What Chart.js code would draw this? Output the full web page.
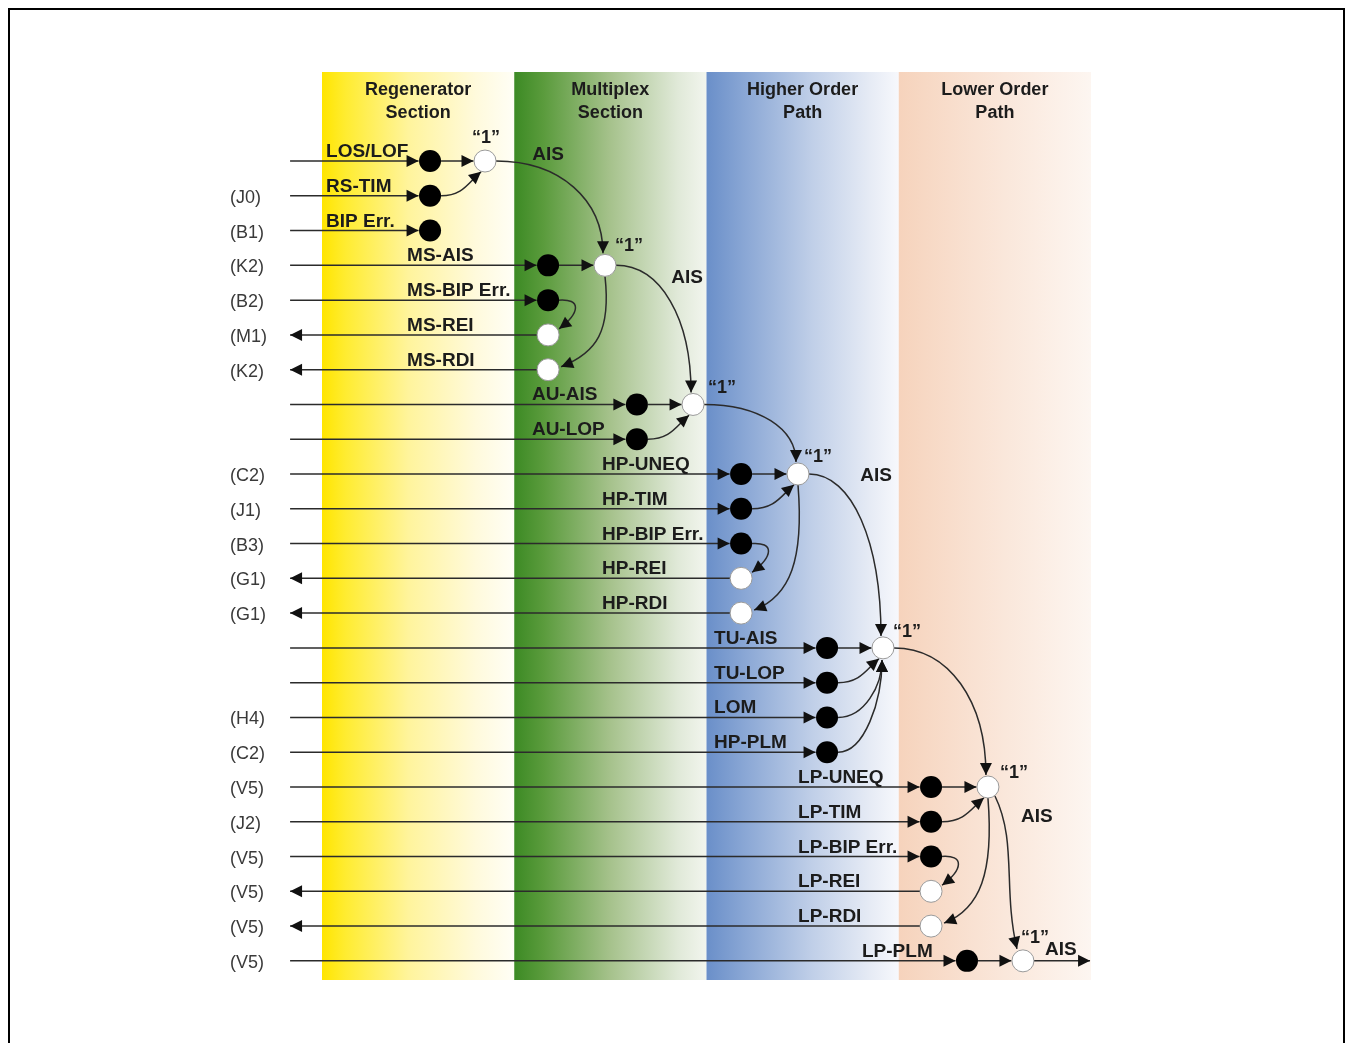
<!DOCTYPE html>
<html>
<head>
<meta charset="utf-8">
<script src="https://cdn.jsdelivr.net/npm/chart.js@4.4.1/dist/chart.umd.min.js"></script>
<style>
  html, body { margin: 0; padding: 0; background: #fff; }
  #wrap { width: 1348px; height: 1043px; position: relative; }
</style>
</head>
<body>
<div id="wrap"><canvas id="alarmas"></canvas></div>
<script>
// Datos del diagrama (x en unidades de sección, y = número de fila)

const secciones = [["Regenerator", "Section"], ["Multiplex", "Section"], ["Higher Order", "Path"], ["Lower Order", "Path"]];

const bytes = ["", "(J0)", "(B1)", "(K2)", "(B2)", "(M1)", "(K2)", "", "", "(C2)", "(J1)", "(B3)", "(G1)", "(G1)",
  "", "", "(H4)", "(C2)", "(V5)", "(J2)", "(V5)", "(V5)", "(V5)", "(V5)"];

const alarmas = ["LOS/LOF", "RS-TIM", "BIP Err.", "MS-AIS", "MS-BIP Err.", "MS-REI", "MS-RDI", "AU-AIS", "AU-LOP",
  "HP-UNEQ", "HP-TIM", "HP-BIP Err.", "HP-REI", "HP-RDI", "TU-AIS", "TU-LOP", "LOM", "HP-PLM",
  "LP-UNEQ", "LP-TIM", "LP-BIP Err.", "LP-REI", "LP-RDI", "LP-PLM"];

// 1 = señal que sale hacia la izquierda (REI / RDI)
const salida = [0, 0, 0, 0, 0, 1, 1, 0, 0, 0, 0, 0, 1, 1, 0, 0, 0, 0, 0, 0, 0, 1, 1, 0];

// posición del detector de cada fila
const detectorX = [0.562, 0.562, 0.562, 1.176, 1.176, 1.176, 1.176, 1.638, 1.638,
  2.18, 2.18, 2.18, 2.18, 2.18, 2.627, 2.627, 2.627, 2.627,
  3.168, 3.168, 3.168, 3.168, 3.168, 3.355];

// compuertas "1"
const puertaFila = [0, 3, 7, 9, 14, 18, 23];
const puertaX = [0.848, 1.472, 1.93, 2.476, 2.918, 3.464, 3.646];

// entradas laterales: [fila, compuerta]
const entradas = [[1, 0], [8, 2], [10, 3], [15, 4], [16, 4], [17, 4], [19, 5]];
// AIS de una compuerta a la siguiente
const cadenaAIS = [[0, 1], [1, 2], [2, 3], [3, 4], [4, 5], [5, 6]];
// compuerta -> fila RDI
const haciaRDI = [[1, 6], [3, 13], [5, 22]];
// fila BIP -> fila REI
const haciaREI = [[4, 5], [11, 12], [20, 21]];
// compuertas con etiqueta AIS a la salida
const etiquetaAIS = [0, 1, 3, 5, 6];

const inicioLineas = -0.166;
const finSalida = 3.995;

// Estilo y ubicación de textos
const R = 11;
const tinta = "#2b2b2b";
const colores = [
  [[0, "#ffe500"], [0.12, "#ffec30"], [0.45, "#fff49c"], [0.8, "#fffadc"], [1, "#fffef6"]],
  [[0, "#3c8a24"], [0.15, "#5a9b3c"], [0.5, "#a6c28c"], [0.85, "#e0e9d8"], [1, "#f2f5ee"]],
  [[0, "#6a8fc9"], [0.2, "#8aa7d5"], [0.55, "#c0cfe8"], [0.85, "#e6ebf5"], [1, "#f7f8fc"]],
  [[0, "#f6d3bc"], [0.4, "#f9e2d3"], [1, "#fdf6f1"]]
];
const sangriaGrupo = [[3, -104], [4, -141], [2, -105], [5, -139], [4, -113], [5, -133], [1, -105]];
const sangria = sangriaGrupo.flatMap(([n, d]) => Array(n).fill(d));
const unoOffset = [[1, -23], [24, -19], [29, -16], [20, -17], [24, -16], [26, -14], [12, -23]];
const aisOffset = { 0: [63, -6], 1: [82, 12], 3: [78, 2], 5: [49, 30], 6: [38, -11] };

function flecha(ctx, x, y, ang) {
  ctx.save();
  ctx.translate(x, y);
  ctx.rotate(ang);
  ctx.beginPath();
  ctx.moveTo(0, 0);
  ctx.lineTo(-12, -6);
  ctx.lineTo(-12, 6);
  ctx.closePath();
  ctx.fill();
  ctx.restore();
}

function recta(ctx, x0, y0, x1, y1) {
  ctx.beginPath();
  ctx.moveTo(x0, y0);
  ctx.lineTo(x1, y1);
  ctx.stroke();
  flecha(ctx, x1, y1, Math.atan2(y1 - y0, x1 - x0));
}

function curva(ctx, s, c1, c2, e) {
  ctx.beginPath();
  ctx.moveTo(s.x, s.y);
  ctx.bezierCurveTo(c1.x, c1.y, c2.x, c2.y, e.x, e.y);
  ctx.stroke();
  flecha(ctx, e.x, e.y, Math.atan2(e.y - c2.y, e.x - c2.x));
}

const diagrama = {
  id: "diagrama",
  beforeDraw(chart) {
    const ctx = chart.ctx;
    ctx.save();
    ctx.strokeStyle = "#000";
    ctx.lineWidth = 2;
    ctx.strokeRect(9, 9, 1335, 1200);
    ctx.restore();
  },
  beforeDatasetsDraw(chart) {
    const { ctx, chartArea: a, scales: { x, y } } = chart;
    const px = v => x.getPixelForValue(v);
    const py = v => y.getPixelForValue(v);
    ctx.save();
    secciones.forEach((s, i) => {
      const x0 = px(i), x1 = px(i + 1);
      const g = ctx.createLinearGradient(x0, 0, x1, 0);
      colores[i].forEach(([p, c]) => g.addColorStop(p, c));
      ctx.fillStyle = g;
      ctx.fillRect(x0, a.top, x1 - x0, a.bottom - a.top);
    });

    ctx.strokeStyle = tinta;
    ctx.fillStyle = "#111";
    ctx.lineWidth = 1.5;

    // líneas horizontales
    alarmas.forEach((n, i) => {
      const yy = py(i), xd = px(detectorX[i]);
      if (salida[i]) {
        recta(ctx, xd - R, yy, px(inicioLineas), yy);
      } else {
        recta(ctx, px(inicioLineas), yy, xd - R - 0.5, yy);
      }
    });
    puertaFila.forEach((f, k) => {
      const yy = py(f);
      recta(ctx, px(detectorX[f]) + R, yy, px(puertaX[k]) - R - 0.5, yy);
    });
    const ult = puertaX.length - 1;
    recta(ctx, px(puertaX[ult]) + R, py(puertaFila[ult]), px(finSalida), py(puertaFila[ult]));

    // entradas laterales
    entradas.forEach(([f, k]) => {
      const s = { x: px(detectorX[f]) + R, y: py(f) };
      const gx = px(puertaX[k]), gy = py(puertaFila[k]);
      if (f - puertaFila[k] === 1) {
        const e = { x: gx - 4, y: gy + R * 0.98 };
        curva(ctx, s, { x: s.x + 0.55 * (e.x - s.x), y: s.y }, { x: e.x - 13, y: e.y + 11 }, e);
      } else {
        const e = { x: gx - 1, y: gy + R + 1 };
        curva(ctx, s, { x: s.x + 0.6 * (e.x - s.x), y: s.y }, { x: e.x, y: e.y + 0.45 * (s.y - e.y) }, e);
      }
    });

    // cadena AIS
    cadenaAIS.forEach(([k0, k1]) => {
      const g0 = { x: px(puertaX[k0]), y: py(puertaFila[k0]) };
      const g1 = { x: px(puertaX[k1]), y: py(puertaFila[k1]) };
      if (k1 < ult) {
        const s = { x: g0.x + R, y: g0.y };
        const e = { x: g1.x - 2, y: g1.y - R - 1 };
        curva(ctx, s, { x: s.x + 0.6 * (e.x - s.x), y: s.y }, { x: e.x, y: s.y + 0.42 * (e.y - s.y) }, e);
      } else {
        const s = { x: g0.x + 7, y: g0.y + 9 };
        const e = { x: g1.x - 6, y: g1.y - R - 1 };
        curva(ctx, s, { x: s.x + 22, y: s.y + 45 }, { x: e.x - 14, y: e.y - 60 }, e);
      }
    });

    // compuerta -> RDI
    haciaRDI.forEach(([k, f]) => {
      const s = { x: px(puertaX[k]), y: py(puertaFila[k]) + R };
      const e = { x: px(detectorX[f]) + R + 2, y: py(f) - 3 };
      curva(ctx, s, { x: s.x + 6, y: s.y + 0.6 * (e.y - s.y) }, { x: s.x - 8, y: e.y - 14 }, e);
    });

    // BIP -> REI
    haciaREI.forEach(([f0, f1]) => {
      const s = { x: px(detectorX[f0]) + R - 1, y: py(f0) };
      const e = { x: px(detectorX[f1]) + R, y: py(f1) - R * 0.55 };
      curva(ctx, s, { x: s.x + 24, y: s.y - 2 }, { x: s.x + 22, y: e.y - 16 }, e);
    });
    ctx.restore();
  },
  afterDatasetsDraw(chart) {
    const { ctx, chartArea: a, scales: { x, y } } = chart;
    const px = v => x.getPixelForValue(v);
    const py = v => y.getPixelForValue(v);
    ctx.save();
    ctx.fillStyle = "#1c1c1c";
    ctx.textAlign = "center";
    ctx.textBaseline = "middle";
    ctx.font = "bold 18px 'Liberation Sans', Arial, sans-serif";
    secciones.forEach((s, i) => {
      const cx = px(i + 0.5);
      ctx.fillText(s[0], cx, a.top + 18);
      ctx.fillText(s[1], cx, a.top + 41);
    });

    ctx.textAlign = "left";
    ctx.textBaseline = "alphabetic";
    ctx.font = "bold 19px 'Liberation Sans', Arial, sans-serif";
    alarmas.forEach((n, i) => {
      ctx.fillText(n, px(detectorX[i]) + sangria[i], py(i) - 4);
    });

    ctx.fillStyle = "#3a3a3a";
    ctx.textBaseline = "middle";
    ctx.font = "18px 'Liberation Sans', Arial, sans-serif";
    bytes.forEach((b, i) => {
      if (b) ctx.fillText(b, px(0) - 92, py(i) + 2);
    });

    ctx.fillStyle = "#1c1c1c";
    ctx.textAlign = "center";
    ctx.font = "bold 18px 'Liberation Sans', Arial, sans-serif";
    puertaFila.forEach((f, k) => {
      const [dx, dy] = unoOffset[k];
      ctx.fillText("\u201C1\u201D", px(puertaX[k]) + dx, py(f) + dy);
    });
    ctx.font = "bold 19px 'Liberation Sans', Arial, sans-serif";
    etiquetaAIS.forEach(k => {
      const [dx, dy] = aisOffset[k];
      ctx.fillText("AIS", px(puertaX[k]) + dx, py(puertaFila[k]) + dy);
    });
    ctx.restore();
  }
};

const puntosNegros = alarmas.map((n, i) => salida[i] ? null : { x: detectorX[i], y: i }).filter(p => p);
const puntosBlancos = alarmas.map((n, i) => salida[i] ? { x: detectorX[i], y: i } : null).filter(p => p)
  .concat(puertaFila.map((f, k) => ({ x: puertaX[k], y: f })));

new Chart(document.getElementById("alarmas"), {
  type: "scatter",
  data: {
    datasets: [
      {
        data: puntosNegros,
        pointRadius: R,
        pointBackgroundColor: "#000",
        pointBorderColor: "#000",
        pointBorderWidth: 0,
        clip: false
      },
      {
        data: puntosBlancos,
        pointRadius: R,
        pointBackgroundColor: "#fff",
        pointBorderColor: "#9a9a9a",
        pointBorderWidth: 1,
        clip: false
      }
    ]
  },
  options: {
    responsive: true,
    maintainAspectRatio: false,
    animation: false,
    layout: { padding: { left: 322, right: 257, top: 72, bottom: 63 } },
    plugins: { legend: { display: false }, tooltip: { enabled: false } },
    events: [],
    scales: {
      x: { type: "linear", min: 0, max: 4, display: false },
      y: { type: "linear", min: -2.56, max: 23.55, reverse: true, display: false }
    }
  },
  plugins: [diagrama]
});
</script>
</body>
</html>
